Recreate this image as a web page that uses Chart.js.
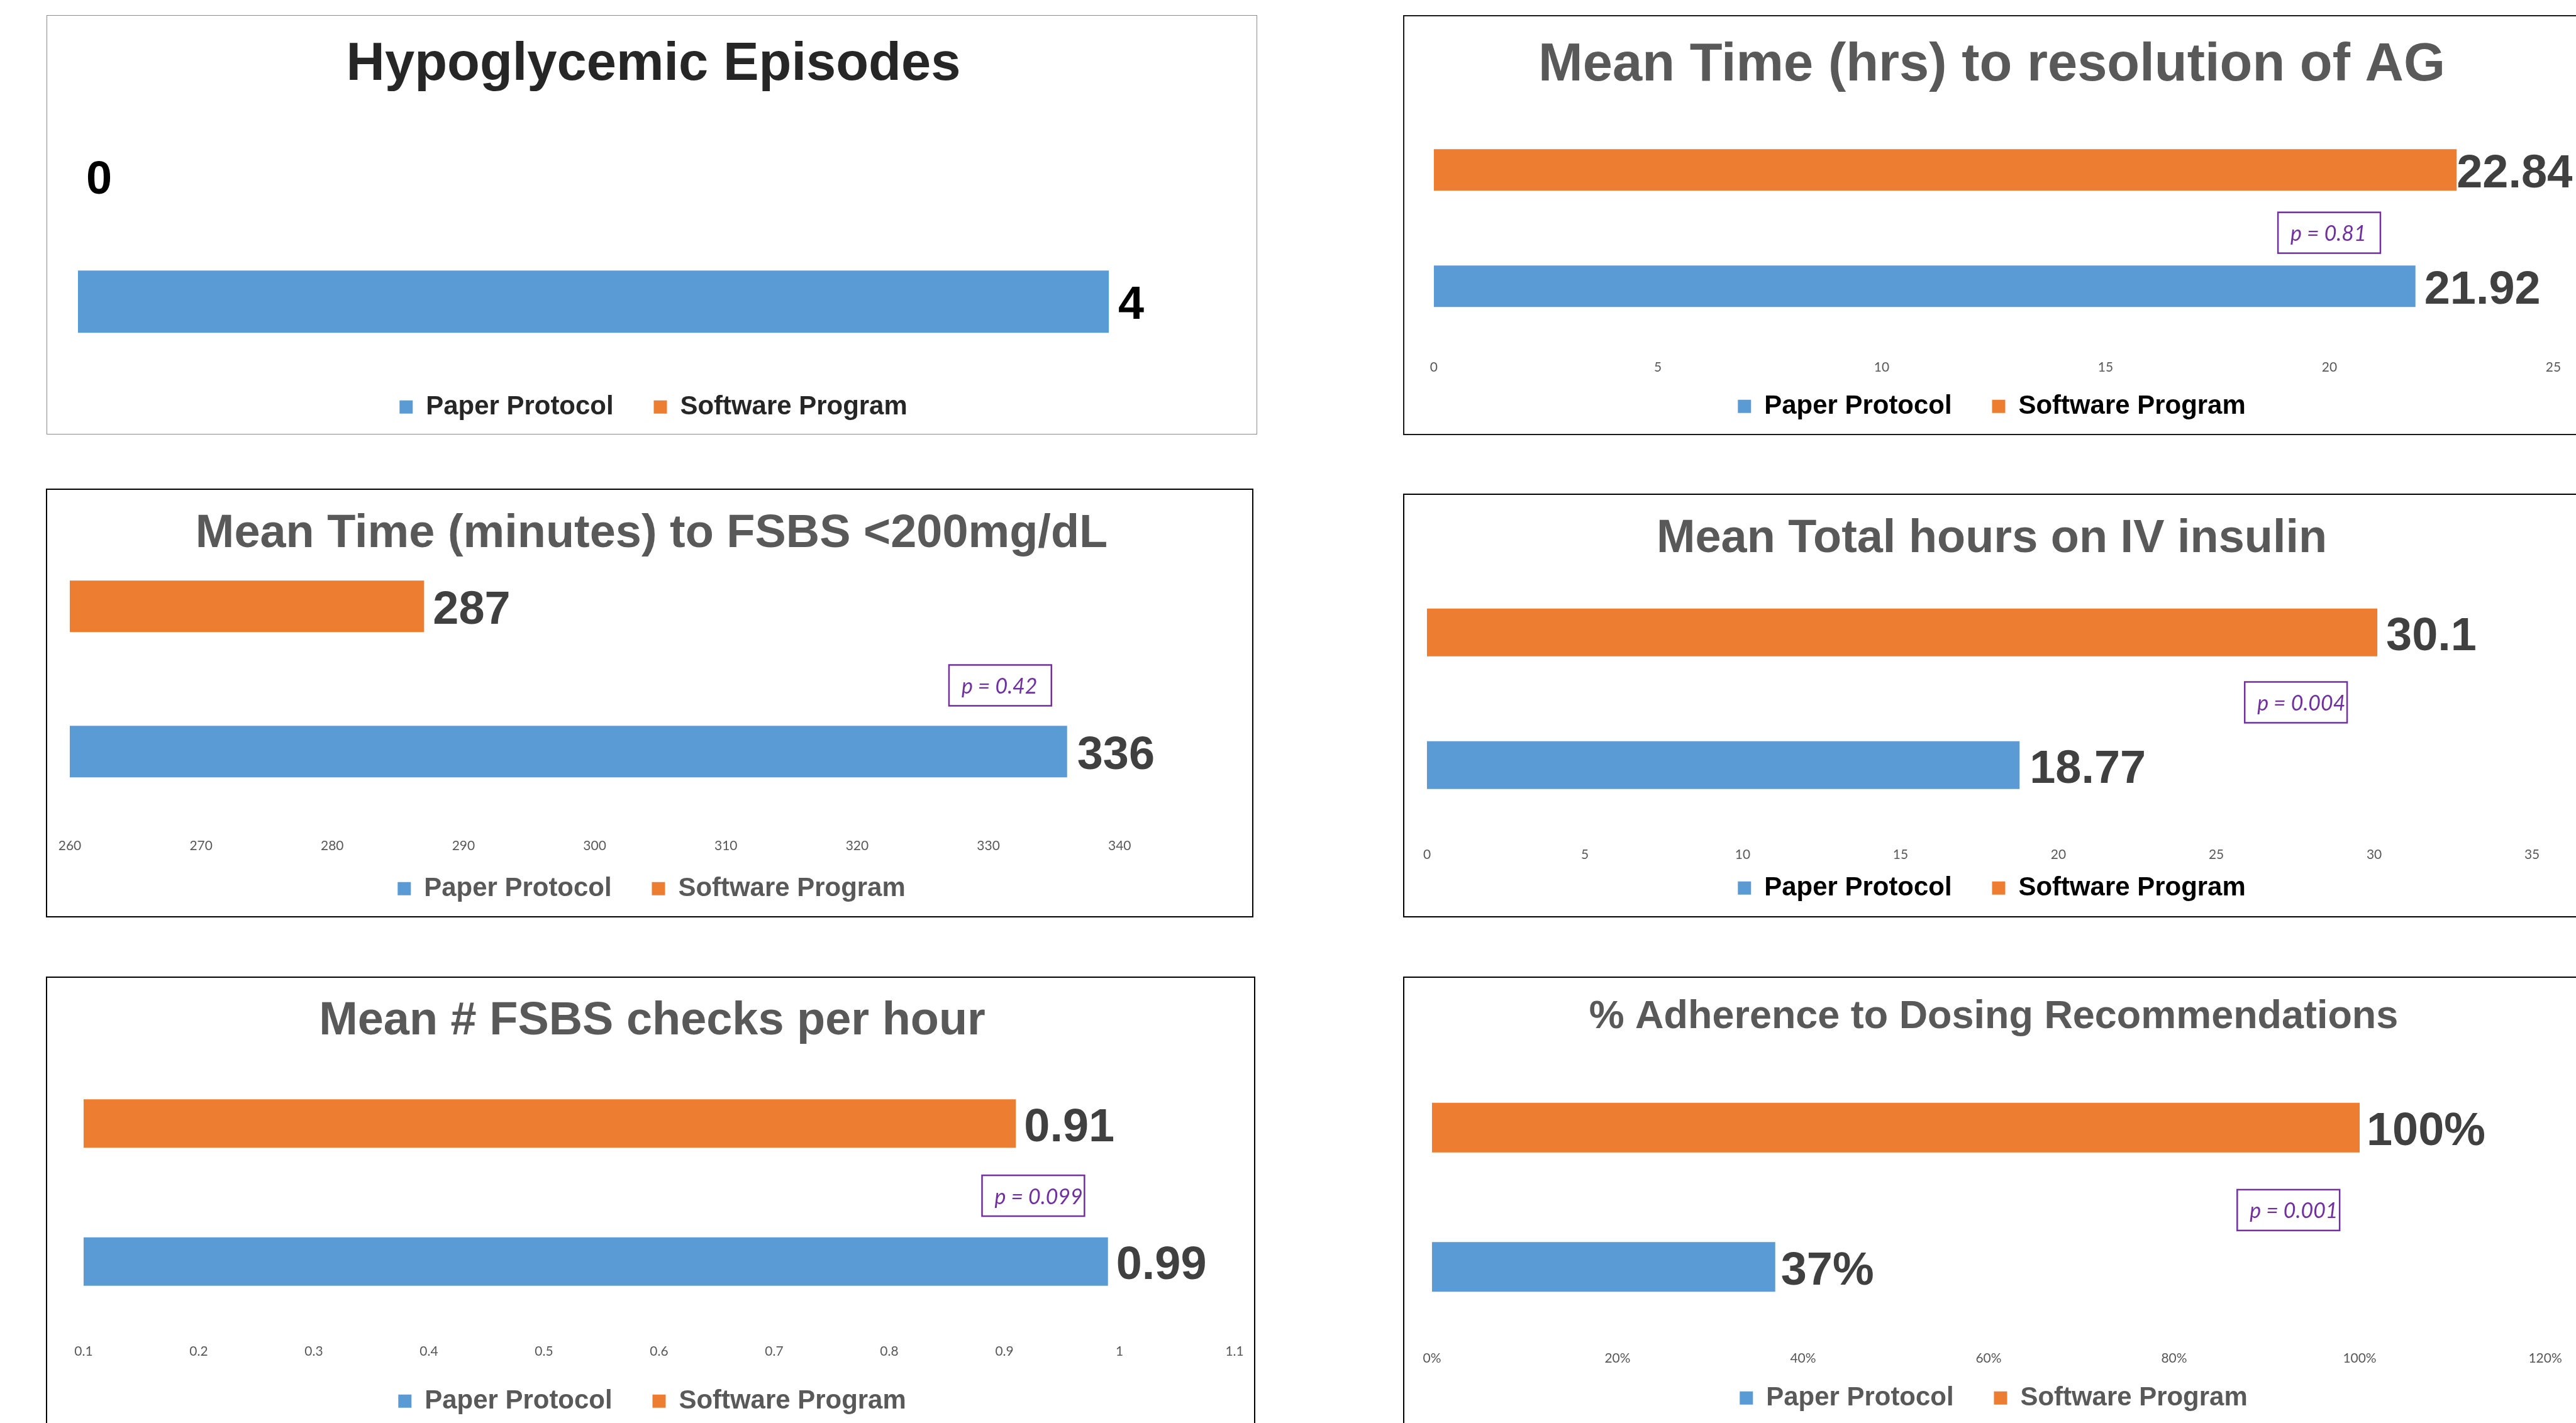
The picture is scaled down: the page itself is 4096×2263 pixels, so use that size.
<!DOCTYPE html>
<html>
<head>
<meta charset="utf-8">
<script src="https://cdn.jsdelivr.net/npm/chart.js@4.4.1/dist/chart.umd.min.js"></script>
<style>
  html, body { margin: 0; padding: 0; background: #fff; overflow: hidden; width: 4096px; height: 2263px; }
  .frame { position: absolute; box-sizing: border-box; }
  .wrap { position: absolute; }
</style>
</head>
<body>
<script>
// everything below is laid out in reference pixels and scaled by S
const S = 0.999;
const k = v => v * S;

const seriesNames = ["Paper Protocol", "Software Program"];
const rowOrder = ["Software Program", "Paper Protocol"]; // top row, bottom row
const paperColor = "#5B9BD5";
const softwareColor = "#ED7D31";

const chartTitles = [
    "Hypoglycemic Episodes",
    "Mean Time (hrs) to resolution of AG",
    "Mean Time (minutes) to FSBS <200mg/dL",
    "Mean Total hours on IV insulin",
    "Mean # FSBS checks per hour",
    "% Adherence to Dosing Recommendations"
];

// values as [Software Program, Paper Protocol]
const hypoEpisodes = [0, 4];
const agResolutionHours = [22.84, 21.92];
const minutesToUnder200 = [287, 336];
const ivInsulinHours = [30.1, 18.77];
const checksPerHour = [0.91, 0.99];
const dosingAdherence = [100, 37];

const agTicks = ["0", "5", "10", "15", "20", "25"];
const minutesTicks = ["260", "270", "280", "290", "300", "310", "320", "330", "340"];
const ivTicks = ["0", "5", "10", "15", "20", "25", "30", "35"];
const checksTicks = ["0.1", "0.2", "0.3", "0.4", "0.5", "0.6", "0.7", "0.8", "0.9", "1", "1.1"];
const adherenceTicks = ["0%", "20%", "40%", "60%", "80%", "100%", "120%"];

const pValues = ["p = 0.81", "p = 0.42", "p = 0.004", "p = 0.099", "p = 0.001"];

const ARIAL = "'Liberation Sans', Arial, sans-serif";
const CALIBRI = "Lato, 'Open Sans', sans-serif";
const LEGEND_FONT = 42, LEGEND_PAD = 64, LEGEND_BOX = 21;
const TICK_FONT = 21, TICK_FIX = -5, VALUE_FONT = 74;
const PBOX_W = 163, PBOX_H = 65, PBOX_FONT = 34, PBOX_INSET = 20;
const MID_FIX = 0.1; // canvas "middle" sits a bit high for these fonts

Chart.defaults.font.family = ARIAL;

const panels = [
    {
        title: chartTitles[0], values: hypoEpisodes, ticks: null, range: [0, 4.5], suffix: "",
        frame: [75, 25, 2000, 691], frameColor: "#8c8c8c", frameWidth: 2,
        titleSize: 85, titleColor: "#262626", titleX: 1040, titleY: 95,
        plotX: [124, 1970], plotY: [280, 480.5], barSize: 99,
        tickY: null, legendY: 644, legendColor: "#262626",
        valueColor: "#000", valueGaps: [13, 15], pBox: null
    },
    {
        title: chartTitles[1], values: agResolutionHours, ticks: agTicks, suffix: "",
        frame: [2235, 26, 4200, 691], frameColor: "#1a1a1a", frameWidth: 3,
        titleSize: 85, titleColor: "#595959", titleX: 3170, titleY: 96,
        plotX: [2282, 4064], plotY: [270.5, 456], barSize: 66,
        tickY: 582, legendY: 643, legendColor: "#000",
        valueColor: "#404040", valueGaps: [0, 14],
        pBox: { text: pValues[0], x: 18.85, y: 0.54 }
    },
    {
        title: chartTitles[2], values: minutesToUnder200, ticks: minutesTicks, suffix: "",
        frame: [75, 779, 1993, 1459], frameColor: "#000", frameWidth: 3,
        titleSize: 74, titleColor: "#595959", titleX: 1037, titleY: 843.5,
        plotX: [111, 1782], plotY: [965.5, 1197], barSize: 82,
        tickY: 1344, legendY: 1411, legendColor: "#595959",
        valueColor: "#404040", valueGaps: [14, 16],
        pBox: { text: pValues[1], x: 327, y: 0.544 }
    },
    {
        title: chartTitles[3], values: ivInsulinHours, ticks: ivTicks, suffix: "",
        frame: [2235, 787, 4200, 1459], frameColor: "#000", frameWidth: 3,
        titleSize: 74, titleColor: "#595959", titleX: 3170, titleY: 851,
        plotX: [2271, 4030], plotY: [1007, 1218.5], barSize: 76,
        tickY: 1358, legendY: 1410, legendColor: "#000",
        valueColor: "#404040", valueGaps: [14, 16],
        pBox: { text: pValues[2], x: 25.9, y: 0.527 }
    },
    {
        title: chartTitles[4], values: checksPerHour, ticks: checksTicks, suffix: "",
        frame: [75, 1556, 1997, 2290], frameColor: "#000", frameWidth: 3,
        titleSize: 74, titleColor: "#595959", titleX: 1038, titleY: 1619.5,
        plotX: [133, 1965], plotY: [1789, 2009], barSize: 77,
        tickY: 2149, legendY: 2227, legendColor: "#595959",
        valueColor: "#404040", valueGaps: [13, 13],
        pBox: { text: pValues[3], x: 0.8806, y: 0.523 }
    },
    {
        title: chartTitles[5], values: dosingAdherence, ticks: adherenceTicks, suffix: "%",
        frame: [2235, 1556, 4200, 2290], frameColor: "#000", frameWidth: 3,
        titleSize: 63, titleColor: "#595959", titleX: 3173, titleY: 1613,
        plotX: [2279, 4051], plotY: [1795.5, 2017.5], barSize: 79,
        tickY: 2160, legendY: 2222, legendColor: "#595959",
        valueColor: "#404040", valueGaps: [11, 9],
        pBox: { text: pValues[4], x: 86.8, y: 0.592 }
    }
];

// value labels at the bar ends, plus the boxed p-value
const barValueLabels = {
    id: "barValueLabels",
    afterDatasetsDraw(chart, args, opts) {
        const ctx = chart.ctx;
        ctx.save();
        ctx.font = `bold ${k(VALUE_FONT)}px ${ARIAL}`;
        ctx.fillStyle = opts.color;
        ctx.textAlign = "left";
        ctx.textBaseline = "middle";
        chart.data.datasets.forEach((ds, di) => {
            chart.getDatasetMeta(di).data.forEach((bar, i) => {
                const v = ds.data[i];
                if (v === null) return;
                ctx.fillText(v + opts.suffix, bar.x + k(opts.gaps[i]), bar.y + k(VALUE_FONT * MID_FIX));
            });
        });

        if (opts.pBox) {
            const left = chart.scales.x.getPixelForValue(opts.pBox.x);
            const cy = chart.scales.y.getPixelForValue(opts.pBox.y);
            ctx.strokeStyle = "#7030A0";
            ctx.lineWidth = k(2.5);
            ctx.strokeRect(left, cy - k(PBOX_H) / 2, k(PBOX_W), k(PBOX_H));
            ctx.fillStyle = "#7030A0";
            ctx.font = `italic ${k(PBOX_FONT)}px ${CALIBRI}`;
            ctx.fillText(opts.pBox.text, left + k(PBOX_INSET), cy + k(2));
        }
        ctx.restore();
    }
};

function buildPanel(p) {
    const [x0, y0, x1, y1] = p.frame;

    const frame = document.createElement("div");
    frame.className = "frame";
    frame.style.left = k(x0 - p.frameWidth / 2) + "px";
    frame.style.top = k(y0 - p.frameWidth / 2) + "px";
    frame.style.width = k(x1 - x0 + p.frameWidth) + "px";
    frame.style.height = k(y1 - y0 + p.frameWidth) + "px";
    frame.style.border = `${k(p.frameWidth)}px solid ${p.frameColor}`;
    document.body.appendChild(frame);

    // horizontal: an invisible side axis shifts the plot so the title sits where it should
    const cl = p.plotX[0] - x0, cr = p.plotX[1] - x0;
    const shift = (p.titleX - x0) - (cl + cr) / 2;
    const sideW = Math.abs(shift) * 2;
    const padR = 30;
    const padL = shift >= 0 ? cl : cl - sideW;
    const W = cr + (shift >= 0 ? sideW : 0) + padR;

    // vertical: plot area runs from the top bar's centre to the bottom bar's centre
    const H = y1 - y0;
    const titleY = p.titleY + p.titleSize * MID_FIX;
    const titleLH = p.titleSize * 1.2;
    const titleTop = titleY - y0 - titleLH / 2;
    const titleBottom = p.plotY[0] - titleY - titleLH / 2;
    const plotBottom = p.plotY[1] - y0;
    const axisH = p.tickY ? p.tickY + 18 - p.plotY[1] : 20;
    const tickLH = p.tickY ? 2 * (p.tickY + TICK_FIX - p.plotY[1]) / TICK_FONT : 1.2;
    const legendTop = plotBottom + axisH;
    const legendMid = p.legendY + LEGEND_FONT * MID_FIX - y0;
    const legendTitleH = legendMid - legendTop - LEGEND_PAD - LEGEND_FONT / 2;
    const legendH = legendTitleH + LEGEND_FONT + LEGEND_PAD + 10;
    const padB = Math.max(0, H - legendTop - legendH);

    const wrap = document.createElement("div");
    wrap.className = "wrap";
    wrap.style.left = k(x0) + "px";
    wrap.style.top = k(y0) + "px";
    wrap.style.width = Math.round(k(W)) + "px";
    wrap.style.height = Math.round(k(H)) + "px";
    const canvas = document.createElement("canvas");
    wrap.appendChild(canvas);
    document.body.appendChild(wrap);

    const tickValues = p.ticks ? p.ticks.map(t => parseFloat(t)) : [];
    const min = p.ticks ? tickValues[0] : p.range[0];
    const max = p.ticks ? tickValues[tickValues.length - 1] : p.range[1];

    const barStyle = { base: min, clip: false, inflateAmount: 0, borderWidth: 0 };

    new Chart(canvas, {
        type: "bar",
        data: {
            labels: rowOrder,
            datasets: [
                { label: seriesNames[0], data: [null, p.values[1]], backgroundColor: paperColor, ...barStyle },
                { label: seriesNames[1], data: [p.values[0], null], backgroundColor: softwareColor, ...barStyle }
            ]
        },
        options: {
            indexAxis: "y",
            responsive: true,
            maintainAspectRatio: false,
            animation: false,
            layout: { padding: { left: k(padL), right: k(padR), top: 0, bottom: k(padB) } },
            datasets: { bar: { barThickness: k(p.barSize), skipNull: true } },
            scales: {
                x: {
                    type: "linear",
                    min: min,
                    max: max,
                    beginAtZero: false,
                    display: true,
                    grid: { display: false },
                    border: { display: false },
                    afterBuildTicks: scale => {
                        if (p.ticks) scale.ticks = tickValues.map(v => ({ value: v }));
                    },
                    afterFit: scale => { scale.height = k(axisH); },
                    ticks: {
                        display: !!p.ticks,
                        padding: 0,
                        maxRotation: 0,
                        minRotation: 0,
                        autoSkip: false,
                        color: "#595959",
                        font: { family: CALIBRI, size: k(TICK_FONT), lineHeight: tickLH },
                        callback: (v, i) => p.ticks ? p.ticks[i] : ""
                    }
                },
                y: {
                    position: shift >= 0 ? "right" : "left",
                    offset: false,
                    grid: { display: false },
                    border: { display: false },
                    ticks: { display: false },
                    afterFit: scale => { scale.width = k(sideW); }
                }
            },
            plugins: {
                title: {
                    display: true,
                    text: p.title,
                    color: p.titleColor,
                    font: { family: ARIAL, size: k(p.titleSize), weight: "bold", lineHeight: 1.2 },
                    padding: { top: k(titleTop), bottom: k(titleBottom) }
                },
                legend: {
                    position: "bottom",
                    // an empty legend title only sets how far down the legend row sits
                    title: {
                        display: true,
                        text: " ",
                        font: { size: 1, lineHeight: 1 },
                        padding: { top: k(legendTitleH) - 1, bottom: 0 }
                    },
                    labels: {
                        boxWidth: k(LEGEND_BOX),
                        boxHeight: k(LEGEND_BOX),
                        padding: k(LEGEND_PAD),
                        color: p.legendColor,
                        font: { family: ARIAL, size: k(LEGEND_FONT), weight: "bold" }
                    }
                },
                tooltip: { enabled: false },
                barValueLabels: {
                    color: p.valueColor,
                    suffix: p.suffix,
                    gaps: p.valueGaps,
                    pBox: p.pBox
                }
            }
        },
        plugins: [barValueLabels]
    });
}

panels.forEach(buildPanel);
</script>
</body>
</html>
